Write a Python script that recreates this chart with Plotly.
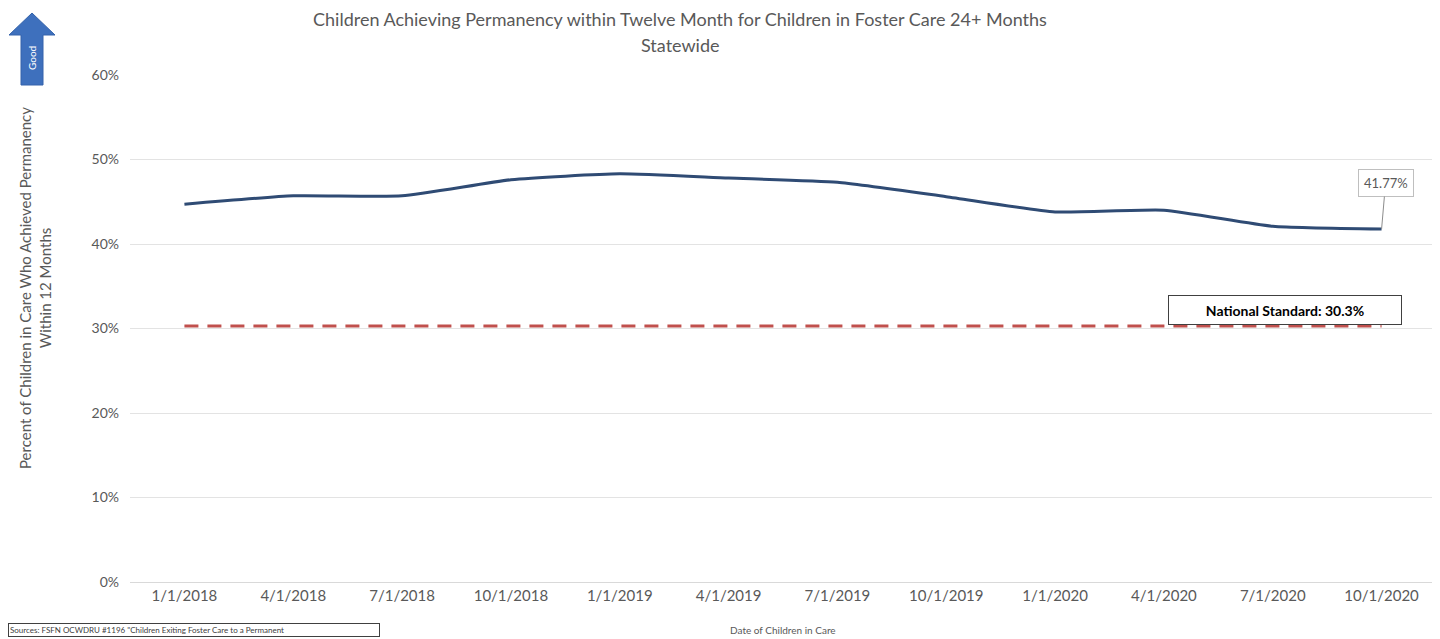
import plotly.graph_objects as go

# Quarterly cohort dates and permanency rates
dates = ["1/1/2018", "4/1/2018", "7/1/2018", "10/1/2018", "1/1/2019", "4/1/2019",
         "7/1/2019", "10/1/2019", "1/1/2020", "4/1/2020", "7/1/2020", "10/1/2020"]
permanency = [0.447, 0.457, 0.457, 0.476, 0.483, 0.478,
              0.473, 0.456, 0.438, 0.440, 0.421, 0.4177]
national_standard = 0.303
y_ticks = [0, 0.1, 0.2, 0.3, 0.4, 0.5, 0.6]

FONT = "Lato, 'Open Sans', sans-serif"
GREY = "#595959"

# page has an 8px body margin, so the figure starts at (8, 8) of the window
OFF = 8
W, H = 1440 - OFF, 639 - OFF
L, R, T, B = 130 - OFF, 4, 75 - OFF, 57
pw, ph = W - L - R, H - T - B


def px(x):
    # window pixel -> paper x
    return (x - OFF - L) / pw


def py(y):
    # window pixel -> paper y
    return (H - B - (y - OFF)) / ph


fig = go.Figure()

# national standard dashed line
fig.add_trace(go.Scatter(
    x=dates, y=[national_standard] * len(dates),
    mode="lines",
    line=dict(color="#c0504d", width=3, dash="14px,9px"),
    hoverinfo="skip"
))

# main smoothed line
fig.add_trace(go.Scatter(
    x=dates, y=permanency,
    mode="lines",
    line=dict(color="#2f4b74", width=3, shape="spline", smoothing=0.5)
))

# "Good" arrow
arrow = "M {} {} L {} {} L {} {} L {} {} L {} {} L {} {} L {} {} Z".format(
    px(32), py(13), px(55), py(35), px(43), py(35), px(43), py(85),
    px(21), py(85), px(21), py(35), px(9), py(35))
fig.add_shape(type="path", path=arrow, xref="paper", yref="paper",
              fillcolor="#3e70bd", line=dict(color="#3463ab", width=1), layer="above")


def note(text, x, y, **kw):
    d = dict(text=text, x=px(x), y=py(y), xref="paper", yref="paper", showarrow=False,
             xanchor="center", yanchor="middle")
    d.update(kw)
    return d


annotations = [
    note("Good", 32, 58, textangle=-90, font=dict(family=FONT, size=10, color="white")),
    note("Children Achieving Permanency within Twelve Month for Children in Foster Care 24+ Months",
         680, 19, font=dict(family=FONT, size=18, color=GREY)),
    note("Statewide", 680, 45, font=dict(family=FONT, size=18, color=GREY)),
    note("Percent of Children in Care Who Achieved Permanency<br>Within 12 Months", 35, 288,
         textangle=-90, font=dict(family=FONT, size=15, color=GREY)),
    note("Date of Children in Care", 783, 630, font=dict(family=FONT, size=10, color=GREY)),
    note("<b>National Standard: 30.3%</b>", 1285, 310, width=230, height=26, bgcolor="white",
         bordercolor="#404040", borderwidth=1, font=dict(family=FONT, size=14, color="black")),
    dict(text="41.77%", x=dates[-1], y=permanency[-1], xref="x", yref="y",
         showarrow=True, arrowhead=0, arrowwidth=1, arrowcolor="#8c8c8c", ax=4, ay=-46,
         bgcolor="white", bordercolor="#bfbfbf", borderwidth=1, borderpad=5,
         font=dict(family=FONT, size=13, color=GREY)),
    dict(text="Sources: FSFN OCWDRU #1196 \"Children Exiting Foster Care to a Permanent",
         x=px(8), y=py(623), xref="paper", yref="paper", xanchor="left", yanchor="top",
         showarrow=False, align="left", width=368, bordercolor="#404040", borderwidth=1, borderpad=1,
         font=dict(family=FONT, size=8, color="#404040")),
]

fig.update_layout(
    width=W, height=H,
    margin=dict(l=L, r=R, t=T, b=B),
    paper_bgcolor="white", plot_bgcolor="white",
    showlegend=False,
    annotations=annotations,
    xaxis=dict(type="category", range=[-0.5, len(dates) - 0.5], showgrid=False,
               showline=True, linecolor="#d9d9d9", ticks="",
               tickfont=dict(family=FONT, size=15, color=GREY)),
    yaxis=dict(range=[0, 0.6], tickvals=y_ticks, tickformat=".0%", showgrid=True,
               gridcolor="#e3e3e3", zeroline=False, ticklabelstandoff=10,
               tickfont=dict(family=FONT, size=14, color=GREY)),
)

fig.write_html("out.html")
